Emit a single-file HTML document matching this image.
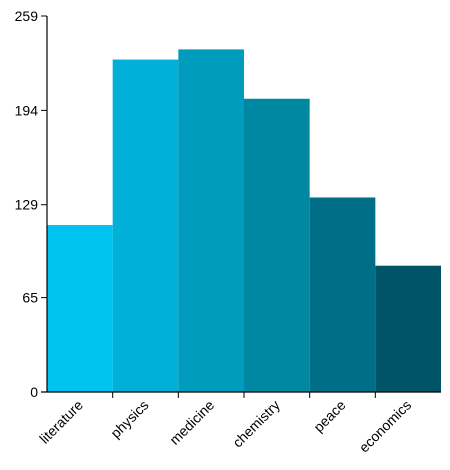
<!DOCTYPE html>
<html><head><meta charset="utf-8"><style>
body{margin:0;background:#fff;}
svg{display:block;font-family:"Liberation Sans",Arial,sans-serif;}
</style></head><body>
<svg id="chart" width="450" height="470"></svg>
<script>
const categories=["literature","physics","medicine","chemistry","peace","economics"];
const values=[115,229,236,202,134,87];
const yTicks=[0,65,129,194,259];
const colors=["#00c4f0","#00b0d8","#009cbd","#0088a2","#006e87","#005468"];
const NS="http://www.w3.org/2000/svg";
const svg=document.getElementById("chart");
const x0=47,x1=441,yTop=16,yBot=392,yMax=259;
const bw=(x1-x0)/categories.length;
const xs=i=>x0+i*bw;
const ys=v=>yBot-(v/yMax)*(yBot-yTop);
function mk(t,a){const e=document.createElementNS(NS,t);for(const k in a)e.setAttribute(k,a[k]);svg.appendChild(e);return e;}
values.forEach((v,i)=>{
  const r=mk("rect",{x:xs(i),y:ys(v),width:bw,height:yBot-ys(v),fill:colors[i]});
  
  
});
const ya=mk("line",{x1:x0,y1:yTop,x2:x0,y2:yBot,stroke:"#000","stroke-width":1.2});


const xa=mk("line",{x1:x0-6,y1:yBot,x2:x1,y2:yBot,stroke:"#000","stroke-width":1.2});


yTicks.forEach(t=>{
  const y=ys(t);
  mk("line",{x1:x0-6,y1:y,x2:x0,y2:y,stroke:"#000"});
  const tx=mk("text",{x:x0-9,y:y+5,"text-anchor":"end","font-size":14,fill:"#000"});
  tx.textContent=t;
  
  
});
categories.forEach((c,i)=>{
  if(i>0)mk("line",{x1:xs(i),y1:yBot,x2:xs(i),y2:yBot+6,stroke:"#000"});
  const cx=xs(i)+bw/2+4,cy=yBot+14;
  const tx=mk("text",{x:cx,y:cy,"text-anchor":"end","font-size":14,fill:"#000",transform:`rotate(-45 ${cx} ${cy})`});
  tx.textContent=c;
  
  
});
</script>
</body></html>
